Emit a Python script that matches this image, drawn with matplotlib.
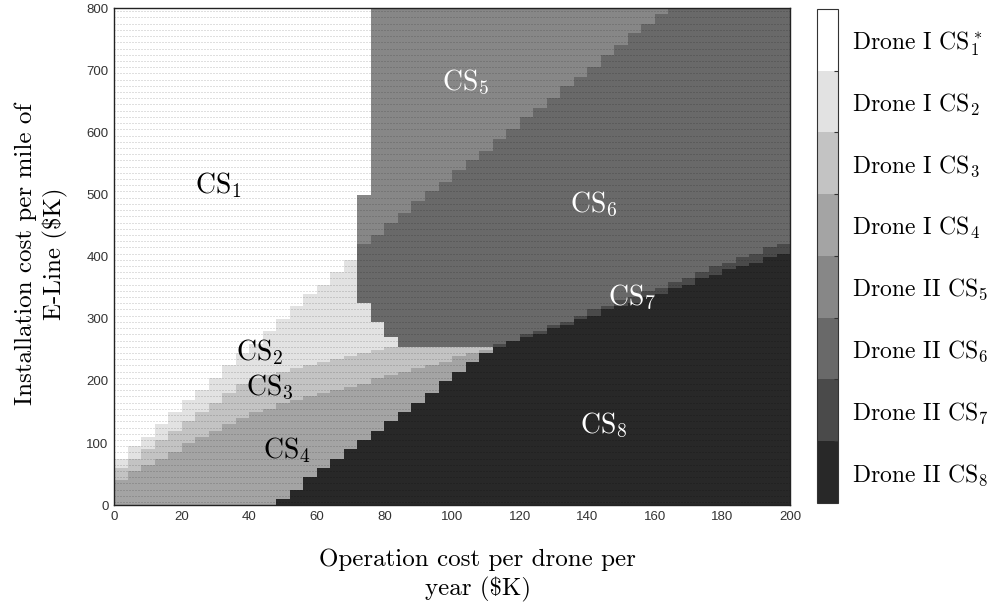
import numpy as np
import matplotlib
matplotlib.use("Agg")
import matplotlib.pyplot as plt
from matplotlib.colors import ListedColormap, BoundaryNorm

plt.rcParams["mathtext.fontset"] = "cm"
plt.rcParams["axes.unicode_minus"] = False

# Cost strategies (colour-bar order)
strategy_labels = [
    r"Drone I $\mathrm{CS}_1^*$", r"Drone I $\mathrm{CS}_2$", r"Drone I $\mathrm{CS}_3$",
    r"Drone I $\mathrm{CS}_4$", r"Drone II $\mathrm{CS}_5$", r"Drone II $\mathrm{CS}_6$",
    r"Drone II $\mathrm{CS}_7$", r"Drone II $\mathrm{CS}_8$",
]
strategy_colors = ["#ffffff", "#e2e2e2", "#c3c3c3", "#a4a4a4",
                   "#878787", "#696969", "#4a4a4a", "#282828"]

x_ticks = list(range(0, 201, 20))
y_ticks = list(range(0, 801, 100))

# Region boundaries: operation cost ($K) -> installation cost ($K)
cs1_cs2_x, cs1_cs2_y = [0, 90], [65, 488]
cs2_cs3_x, cs2_cs3_y = [0, 40, 84], [50, 205, 258]
cs3_cs4_x, cs3_cs4_y = [0, 40, 91, 110], [36, 148, 222, 250]
cs8_top_x, cs8_top_y = [47, 112, 200], [0, 252, 410]
cs7_top_x, cs7_top_y = [112, 200], [254, 426]
cs5_cs6_x, cs5_cs6_y = [72, 164], [412, 800]
cs6_low_x, cs6_low_y = [72, 84, 112], [338, 254, 254]
cs1_edge_y = [0, 500, 800]          # right edge of CS1 region by installation cost
cs1_edge_x = [72, 76]

# Evaluation grid (cell edges and centres)
x_edges = np.arange(0, 201, 4)
y_edges = np.arange(0, 801, 5)
X, Y = np.meshgrid((x_edges[:-1] + x_edges[1:]) / 2, (y_edges[:-1] + y_edges[1:]) / 2)

b12 = np.interp(X, cs1_cs2_x, cs1_cs2_y)
b23 = np.interp(X, cs2_cs3_x, cs2_cs3_y, right=1e9)
b34 = np.interp(X, cs3_cs4_x, cs3_cs4_y, right=1e9)
b8 = np.where(X < cs8_top_x[0], -1, np.interp(X, cs8_top_x, cs8_top_y))
b7 = np.where(X < cs7_top_x[0], -1, np.interp(X, cs7_top_x, cs7_top_y))
b56 = np.where(X > cs5_cs6_x[-1], 1e9, np.interp(X, cs5_cs6_x, cs5_cs6_y))
b6l = np.interp(X, cs6_low_x, cs6_low_y)
edge = np.where(Y >= cs1_edge_y[1], cs1_edge_x[1], cs1_edge_x[0])

drone1 = np.select([Y >= b12, Y >= b23, Y >= b34], [0, 1, 2], default=3)
drone2 = np.where(Y >= b56, 4, 5)
in_d2 = (X >= edge) & (Y >= b6l)
region = np.where(in_d2, drone2, drone1)
region = np.where((Y < b7) & (X >= cs7_top_x[0]), 6, region)
region = np.where(Y < b8, 7, region)

cmap = ListedColormap(strategy_colors)
norm = BoundaryNorm(np.arange(-0.5, 8.5, 1), cmap.N)

fig = plt.figure(figsize=(9.96, 6.05), dpi=100)
ax = fig.add_axes([0.1145, 0.165, 0.6787, 0.8215])
mesh = ax.pcolormesh(x_edges, y_edges, region, cmap=cmap, norm=norm, shading="flat")

# fine dotted mesh texture over the map
ax.hlines(np.arange(5, 800, 10), 0, 200, colors="black", linewidth=0.72,
          linestyles=(0, (1, 2)), alpha=0.25)

ax.set_xlim(0, 200)
ax.set_ylim(0, 800)
ax.set_xticks(x_ticks)
ax.set_yticks(y_ticks)
ax.tick_params(labelsize=9.5, length=0, pad=4)
for lab in ax.get_xticklabels() + ax.get_yticklabels():
    lab.set_fontfamily("Liberation Sans")
    lab.set_color("#333333")
for s in ax.spines.values():
    s.set_linewidth(1.0)
    s.set_color("#222222")

ax.set_xlabel("Operation cost per drone per\nyear (\\$K)", fontfamily="cmr10", fontsize=18,
              linespacing=1.3)
ax.xaxis.set_label_coords(0.538, -0.088)
ax.set_ylabel("Installation cost per mile of\nE-Line (\\$K)", fontfamily="cmr10", fontsize=18,
              linespacing=1.3)
ax.yaxis.set_label_coords(-0.068, 0.505)

# Region labels
region_names = [r"$\mathrm{CS}_1$", r"$\mathrm{CS}_2$", r"$\mathrm{CS}_3$", r"$\mathrm{CS}_4$",
                r"$\mathrm{CS}_5$", r"$\mathrm{CS}_6$", r"$\mathrm{CS}_7$", r"$\mathrm{CS}_8$"]
label_x = [24, 36, 39, 44, 97, 135, 146, 138]
label_y = [502, 233, 177, 76, 668, 472, 322, 116]
label_colors = ["black"] * 4 + ["white"] * 4
for name, lx, ly, lc in zip(region_names, label_x, label_y, label_colors):
    ax.text(lx, ly, name, fontsize=20, color=lc, ha="left", va="baseline")

# Colour bar
cax = fig.add_axes([0.820, 0.169, 0.021, 0.816])
cb = fig.colorbar(mesh, cax=cax, ticks=np.arange(8))
cax.invert_yaxis()
cb.set_ticklabels(strategy_labels)
cax.tick_params(length=0, pad=10)
for lab in cax.get_yticklabels():
    lab.set_fontfamily("cmr10")
    lab.set_fontsize(17)
cax.set_yticks(np.arange(0.5, 7.5, 1), minor=True)
cax.tick_params(which="minor", direction="in", length=3, width=0.8, color="#333333",
                left=False, right=True, labelright=False)
cb.outline.set_linewidth(0.8)
cb.outline.set_edgecolor("#333333")

fig.savefig("out.png", dpi=100)
